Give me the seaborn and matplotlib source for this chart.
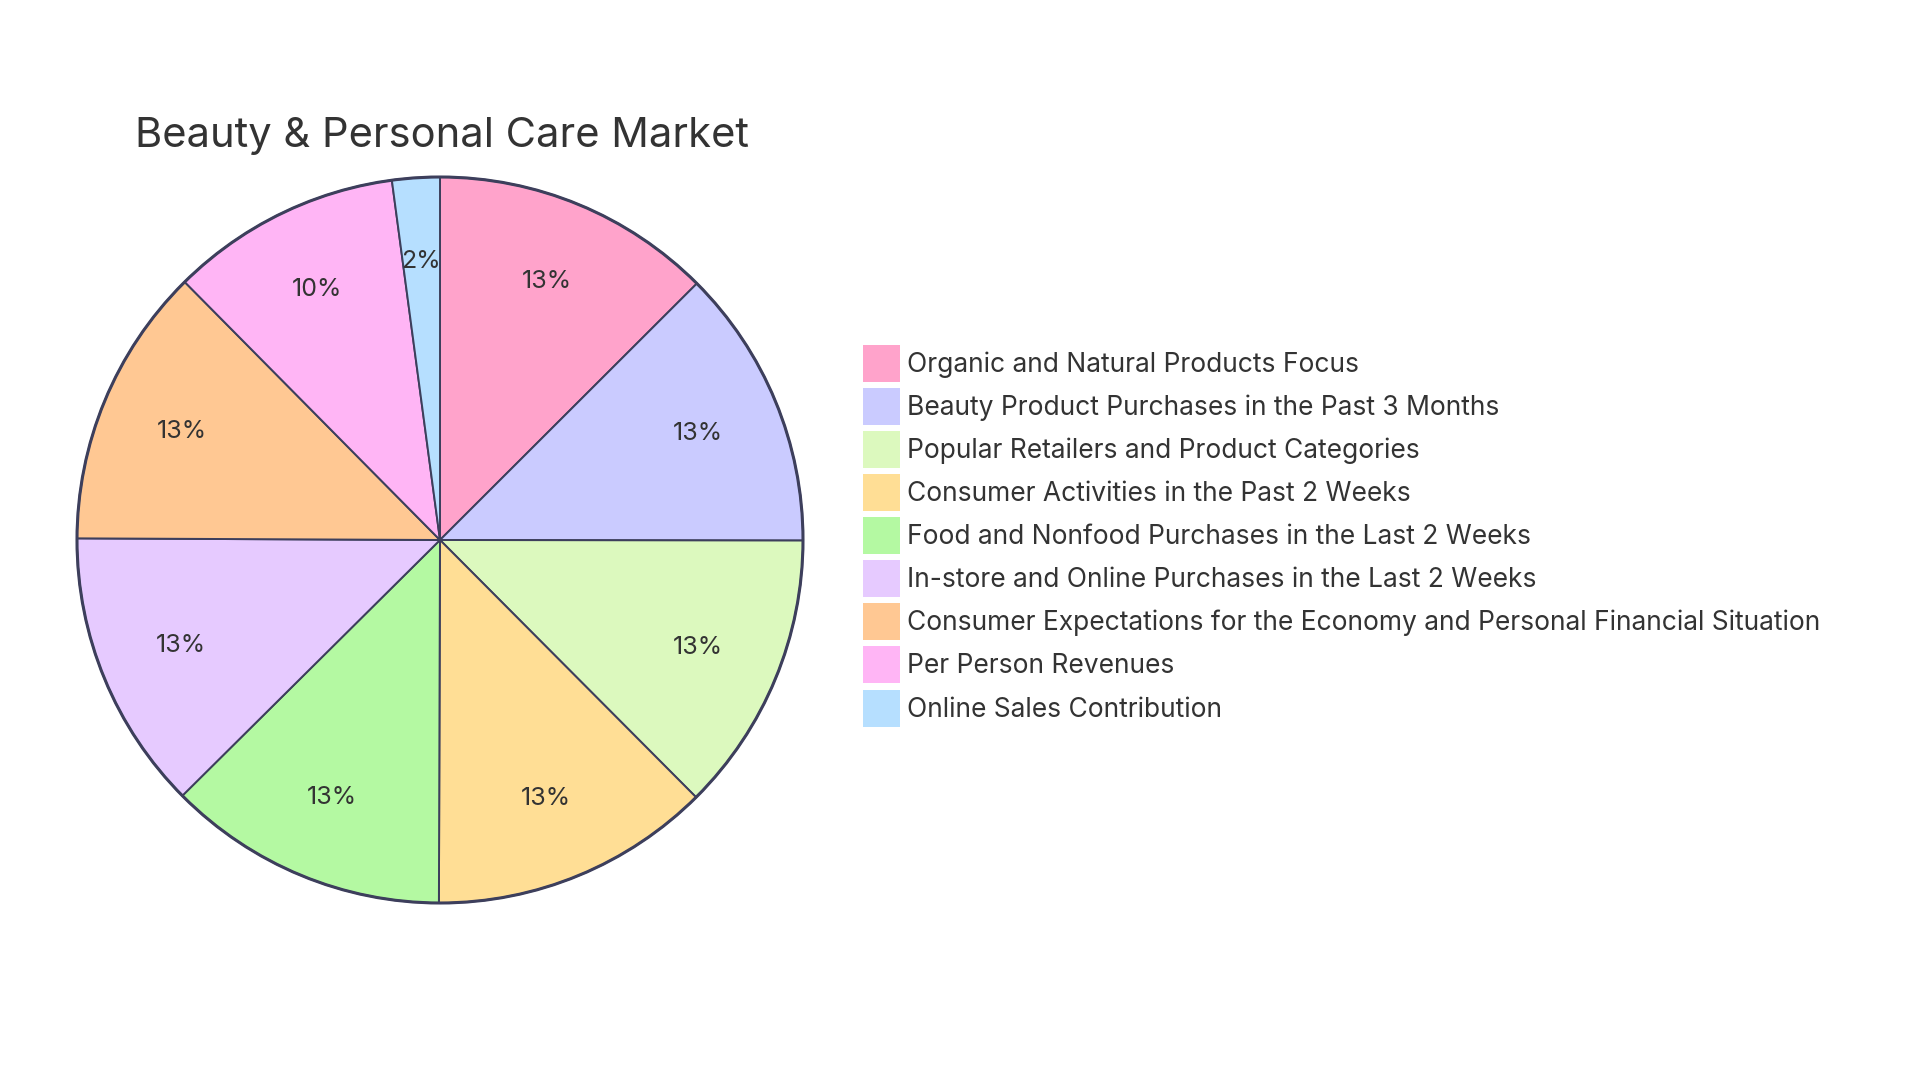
import matplotlib
matplotlib.use("Agg")
import matplotlib.pyplot as plt
import seaborn as sns
from matplotlib.patches import Circle

categories = [
    "Organic and Natural Products Focus",
    "Beauty Product Purchases in the Past 3 Months",
    "Popular Retailers and Product Categories",
    "Consumer Activities in the Past 2 Weeks",
    "Food and Nonfood Purchases in the Last 2 Weeks",
    "In-store and Online Purchases in the Last 2 Weeks",
    "Consumer Expectations for the Economy and Personal Financial Situation",
    "Per Person Revenues",
    "Online Sales Contribution",
]
values = [13, 13, 13, 13, 13, 13, 13, 10.7, 2.2]
colors = ["#FFA3CB", "#CACBFF", "#DCF9BE", "#FFDE95", "#B4F9A2",
          "#E6CAFF", "#FFC893", "#FFB5F5", "#B6DFFF"]
title = "Beauty & Personal Care Market"

sns.set_theme(style="white")
plt.rcParams['font.family'] = ['Inter', 'DejaVu Sans']
palette = sns.color_palette(colors)

W, H = 1920, 1080
fig = plt.figure(figsize=(W / 100, H / 100), dpi=100)
fig.patch.set_facecolor("white")

cx, cy, r = 440, 540, 363
ax = fig.add_axes([(cx - r) / W, (H - cy - r) / H, 2 * r / W, 2 * r / H])
edge = "#3D3F5C"
wedges, texts, autotexts = ax.pie(
    values, colors=palette, startangle=90, counterclock=False,
    autopct=lambda p: f"{p:.0f}%", pctdistance=0.77,
    wedgeprops=dict(edgecolor=edge, linewidth=1.4),
    textprops=dict(fontsize=18, color="#333333"),
)
for w in wedges:
    w.set_clip_on(False)
circ = Circle((0, 0), 1.0, fill=False, edgecolor=edge, linewidth=2.2, zorder=5)
circ.set_clip_on(False)
ax.add_patch(circ)
ax.set_xlim(-1.0, 1.0)
ax.set_ylim(-1.0, 1.0)
ax.set_aspect("equal")
ax.axis("off")

fig.text(135 / W, 1 - 136 / H, title, fontsize=30, color="#333333",
         ha="left", va="center")

leg = fig.legend(
    wedges, categories, loc="upper left",
    bbox_to_anchor=(863 / W, 1 - 345 / H),
    frameon=False, fontsize=19, handlelength=1.4, handleheight=1.78,
    handletextpad=0.28, labelspacing=0.23, borderpad=0, borderaxespad=0,
)
for t in leg.get_texts():
    t.set_color("#333333")
for h in leg.legend_handles:
    h.set_edgecolor("none")

fig.savefig("out.png", dpi=100, facecolor="white")
